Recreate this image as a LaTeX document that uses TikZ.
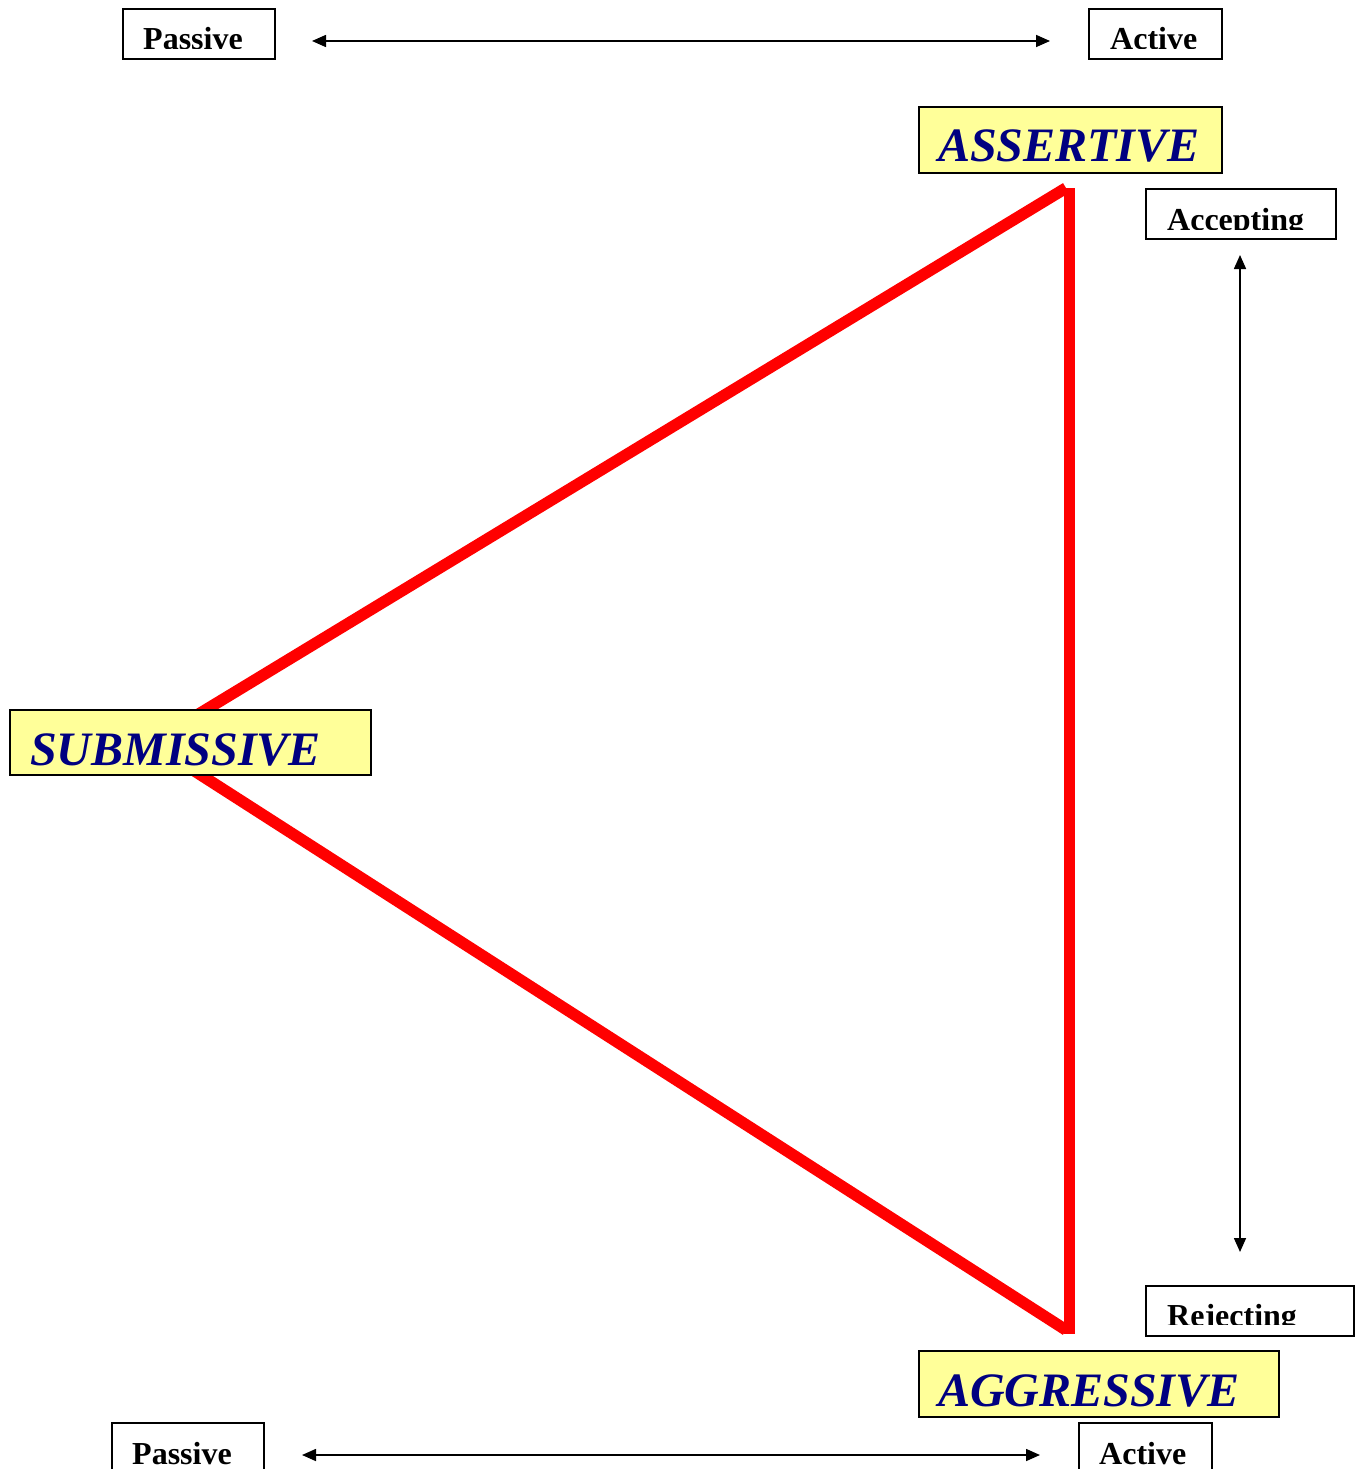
\documentclass[tikz,border=0pt]{standalone}
\usepackage{fontspec}
\setmainfont{Liberation Serif}
\usetikzlibrary{arrows.meta}
\definecolor{boxyellow}{HTML}{FFFF99}
\definecolor{labelblue}{HTML}{000080}
\tikzset{
  smallbox/.style={draw=black, line width=1.8pt, fill=white, anchor=north west, inner sep=0pt},
  bigbox/.style={draw=black, line width=1.8pt, fill=boxyellow, anchor=north west, inner sep=0pt},
  smalltext/.style={anchor=base west, inner sep=0pt, font=\fontsize{32}{38}\selectfont\bfseries},
  bigtext/.style={anchor=base west, inner sep=0pt, text=labelblue, font=\fontsize{48}{56}\selectfont\bfseries\itshape},
  axis/.style={line width=1.6pt, {Triangle[length=14pt,width=12pt]}-{Triangle[length=14pt,width=12pt]}},
  redline/.style={draw=red, line width=11.5pt}
}
\begin{document}
\begin{tikzpicture}[x=1pt,y=-1pt]
\useasboundingbox (0,0) rectangle (1354,1469);
% red triangle
\coordinate (tA) at (1066,188);
\coordinate (tAv) at (1069.5,188);
\coordinate (tB) at (1069.5,1334);
\coordinate (tBd) at (1066,1330);
\coordinate (tS) at (151,743);
\draw[redline] (tS) -- (tA);
\draw[redline] (tAv) -- (tB);
\draw[redline] (tBd) -- (tS);
% axes
\coordinate (hTl) at (312,41);
\coordinate (hTr) at (1050,41);
\draw[axis] (hTl) -- (hTr);
\coordinate (hBl) at (302,1455);
\coordinate (hBr) at (1040,1455);
\draw[axis] (hBl) -- (hBr);
\coordinate (vT) at (1240,255);
\coordinate (vB) at (1240,1252);
\draw[axis] (vT) -- (vB);
% small boxes
\node[smallbox, minimum width=152pt, minimum height=50pt] (passT) at (122,8) {};
\begin{scope}\clip (122,8) rectangle (274,49);
\node[smalltext] (passTt) at (143,50) {Passive};\end{scope}
\node[smallbox, minimum width=133pt, minimum height=50pt] (actT) at (1088,8) {};
\begin{scope}\clip (1088,8) rectangle (1221,49);
\node[smalltext] (actTt) at (1110,50) {Active};\end{scope}
\node[smallbox, minimum width=190pt, minimum height=50pt] (acc) at (1145,188) {};
\begin{scope}\clip (1145,188) rectangle (1335,229);
\node[smalltext] (acct) at (1167,230) {Accepting};\end{scope}
\node[smallbox, minimum width=208pt, minimum height=50pt] (rej) at (1145,1285) {};
\begin{scope}\clip (1145,1285) rectangle (1353,1324);
\node[smalltext] (rejt) at (1167,1326) {Rejecting};\end{scope}
\node[smallbox, minimum width=152pt, minimum height=60pt] (passB) at (111,1422) {};
\begin{scope}\clip (111,1422) rectangle (263,1469);
\node[smalltext] (passBt) at (132,1464) {Passive};\end{scope}
\node[smallbox, minimum width=133pt, minimum height=60pt] (actB) at (1078,1422) {};
\begin{scope}\clip (1078,1422) rectangle (1210,1469);
\node[smalltext] (actBt) at (1099,1464) {Active};\end{scope}
% big boxes
\node[bigbox, minimum width=303pt, minimum height=66pt] (ass) at (918,106) {};
\node[bigtext] (asst) at (938,161) {ASSERTIVE};
\node[bigbox, minimum width=361pt, minimum height=65pt] (sub) at (9,709) {};
\node[bigtext] (subt) at (30,765) {SUBMISSIVE};
\node[bigbox, minimum width=360pt, minimum height=66pt] (agg) at (918,1350) {};
\node[bigtext] (aggt) at (938,1406) {AGGRESSIVE};
\end{tikzpicture}
\end{document}
